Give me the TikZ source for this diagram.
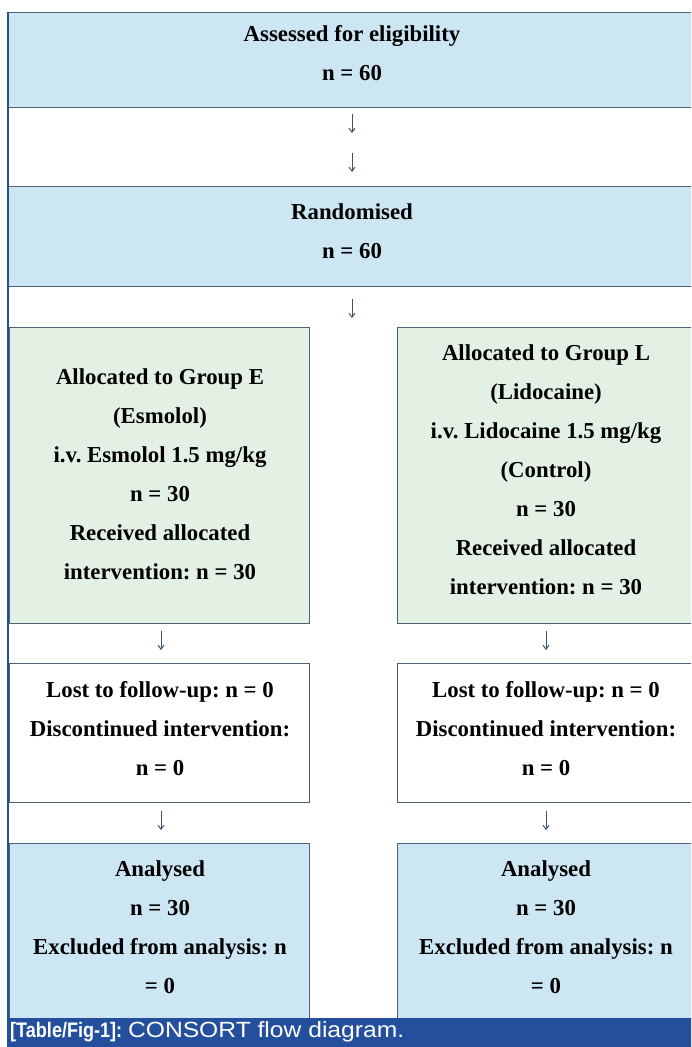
\documentclass[tikz,border=0pt]{standalone}
\usepackage{fontspec}
\setmainfont{Liberation Serif}
\setsansfont{Liberation Sans}
\usetikzlibrary{arrows.meta,calc}
\definecolor{boxblue}{HTML}{CCE6F4}
\definecolor{boxgreen}{HTML}{E3F1E5}
\definecolor{edgec}{HTML}{4D6277}
\definecolor{bandc}{HTML}{244F9D}
\definecolor{arrowc}{HTML}{3E5368}
\frenchspacing
\tikzset{
  frame/.style={draw=edgec, line width=1.3pt, inner sep=0pt, anchor=north west},
  bluebox/.style={frame, fill=boxblue},
  greenbox/.style={frame, fill=boxgreen},
  whitebox/.style={frame, fill=white},
  boxtext/.style={inner sep=0pt, align=center, text=black,
    font=\bfseries\frenchspacing\fontsize{22.8}{39}\selectfont},
  flow/.style={draw=arrowc, line width=1pt, -{Straight Barb[length=4pt,width=6pt]}},
  captext/.style={anchor=west, inner sep=0pt, text=white,
    font=\sffamily\fontsize{21}{24}\selectfont}
}
\begin{document}
\begin{tikzpicture}[x=1pt,y=-1pt]
\useasboundingbox (0,0) rectangle (691,1047);
\clip (0,0) rectangle (691,1047);

% boxes
\node[bluebox, minimum width=686pt, minimum height=95pt] (assess) at (8,12) {};
\node[bluebox, minimum width=686pt, minimum height=100pt] (rand) at (8,186) {};
\node[greenbox, minimum width=300pt, minimum height=296pt] (grpE) at (9,327) {};
\node[greenbox, minimum width=297pt, minimum height=296pt] (grpL) at (397,327) {};
\node[whitebox, minimum width=300pt, minimum height=139pt] (lostE) at (9,663) {};
\node[whitebox, minimum width=297pt, minimum height=139pt] (lostL) at (397,663) {};
\node[bluebox, minimum width=300pt, minimum height=175pt] (anaE) at (9,843) {};
\node[bluebox, minimum width=297pt, minimum height=175pt] (anaL) at (397,843) {};

% caption band
\node[fill=bandc, inner sep=0pt, anchor=north west, minimum width=686pt, minimum height=30pt] (band) at (7,1018) {};
\node[captext] (caption) at (10,1032) {\scalebox{0.86}[1]{\textbf{[Table/Fig-1]:}}\ \scalebox{1.12}[1]{\fontsize{22}{24}\selectfont CONSORT flow diagram.}};

% left rule
\draw[bandc, line width=2pt] (8,12) -- (8,1018);

% texts
\node[boxtext] (assess-t) at (352,53) {Assessed for eligibility\\ n = 60};
\node[boxtext] (rand-t) at (352,231) {Randomised\\ n = 60};
\node[boxtext] (grpE-t) at (160,474) {Allocated to Group E\\ (Esmolol)\\ i.v. Esmolol 1.5 mg/kg\\ n = 30\\ Received allocated\\ intervention: n = 30};
\node[boxtext] (grpL-t) at (546,470) {Allocated to Group L\\ (Lidocaine)\\ i.v. Lidocaine 1.5 mg/kg\\ (Control)\\ n = 30\\ Received allocated\\ intervention: n = 30};
\node[boxtext] (lostE-t) at (160,729) {Lost to follow-up: n = 0\\ Discontinued intervention:\\ n = 0};
\node[boxtext] (lostL-t) at (546,729) {Lost to follow-up: n = 0\\ Discontinued intervention:\\ n = 0};
\node[boxtext] (anaE-t) at (160,927) {Analysed\\ n = 30\\ Excluded from analysis: n\\ = 0};
\node[boxtext] (anaL-t) at (546,927) {Analysed\\ n = 30\\ Excluded from analysis: n\\ = 0};

% arrows
\coordinate (a1s) at (352,114); \coordinate (a1e) at (352,133);
\coordinate (a2s) at (352,153); \coordinate (a2e) at (352,172);
\coordinate (a3s) at (352,299); \coordinate (a3e) at (352,318);
\coordinate (a4s) at (161,631); \coordinate (a4e) at (161,650);
\coordinate (a5s) at (546,631); \coordinate (a5e) at (546,650);
\coordinate (a6s) at (161,811); \coordinate (a6e) at (161,830);
\coordinate (a7s) at (546,811); \coordinate (a7e) at (546,830);
\foreach \i in {1,...,7} { \draw[flow] (a\i s) -- (a\i e); }
\end{tikzpicture}
\end{document}
